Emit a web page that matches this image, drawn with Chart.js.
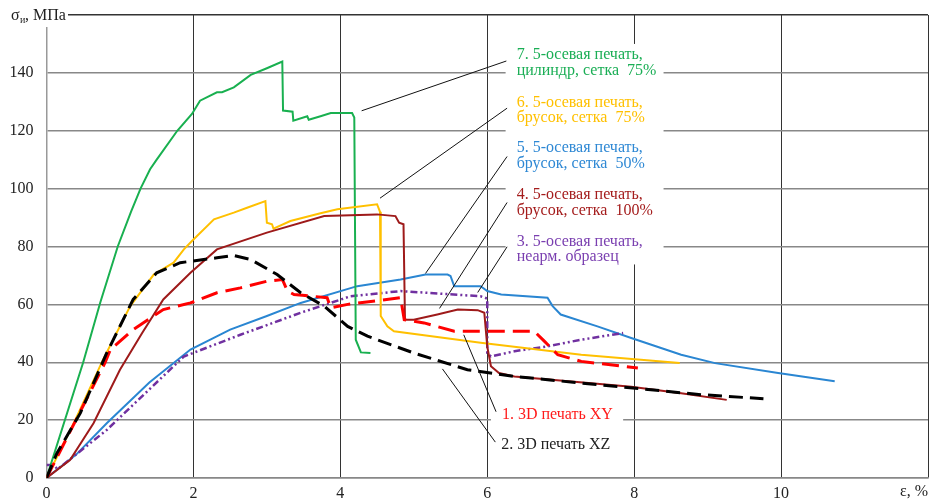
<!DOCTYPE html>
<html>
<head>
<meta charset="utf-8">
<style>
  body { margin: 0; background: #fff; }
  #wrap { width: 930px; height: 504px; }
</style>
<script src="https://cdn.jsdelivr.net/npm/chart.js@4"></script>
</head>
<body>
<div id="wrap"><canvas id="myChart" width="930" height="504"></canvas></div>
<script>
// кривые: деформация, % и напряжение, МПа
const blackX = [0, 0.14, 0.46, 0.82, 1.18, 1.5, 1.82, 2.32, 2.55, 2.78, 3.14, 3.46, 3.78, 4.1, 4.37, 5.0, 5.73, 6.37, 7.28, 8.91, 9.76];
const blackY = [0, 8.5, 22.4, 43.2, 61.7, 70.9, 74.4, 76.1, 76.9, 75.5, 70.3, 64, 59.4, 52.4, 49, 43.2, 37.4, 35.1, 32.8, 28.8, 27.4];

const redX = [0, 0.4, 0.8, 0.87, 1.18, 1.59, 1.96, 2.32, 2.64, 3.0, 3.21, 3.23, 3.28, 3.37, 3.82, 3.87, 4.1, 4.82, 4.87, 5.14, 5.55, 6.64, 6.78, 6.96, 7.28, 8.05];
const redY = [0, 20, 40, 44.4, 51.3, 58.2, 60.5, 64, 65.7, 68, 68.6, 67.5, 64.6, 63.4, 62.3, 58.8, 60, 62.3, 54.7, 53.6, 50.7, 50.7, 47.2, 42.6, 40.3, 38];

const purpleX = [0, 0.1, 0.15, 0.82, 1.87, 2.64, 3.46, 4.14, 4.82, 5.91, 6.0, 6.0, 6.05, 6.37, 6.82, 7.28, 7.85];
const purpleY = [4.5, 4.5, 3, 16.6, 42, 49.5, 57.1, 62.8, 64.6, 62.8, 62, 43.2, 42, 43.8, 45.5, 47.8, 50.1];

const maroonX = [0, 0.32, 0.64, 1.0, 1.3, 1.59, 1.96, 2.32, 3.0, 3.78, 4.5, 4.75, 4.8, 4.86, 4.88, 5.0, 5.32, 5.6, 5.87, 5.96, 6.0, 6.05, 6.16, 6.37, 7.96, 8.64, 9.26];
const maroonY = [0, 6.2, 18.9, 37.4, 50, 61.7, 70.9, 79, 84.8, 90.5, 91.1, 90.5, 88.2, 87.7, 54.7, 54.7, 56.5, 58.2, 58, 57.1, 45.5, 38.6, 36.3, 35.1, 31.5, 29.3, 27];

const blueX = [0, 0.4, 0.82, 1.4, 1.96, 2.5, 3.0, 3.46, 4.23, 4.82, 5.16, 5.46, 5.5, 5.55, 5.91, 6.0, 6.19, 6.82, 6.89, 7.0, 7.5, 7.96, 8.64, 9.1, 9.96, 10.73];
const blueY = [0, 8, 18.9, 33, 44.4, 51.3, 56, 60.5, 66.3, 68.6, 70.3, 70.3, 69.8, 66.3, 66.3, 64.6, 63.4, 62.3, 59.4, 56.5, 52.4, 48.4, 42.6, 39.7, 36.3, 33.4];

const yellowX = [0, 0.37, 0.77, 1.14, 1.46, 1.73, 1.87, 1.98, 2.28, 2.55, 2.73, 2.98, 3.0, 3.07, 3.09, 3.32, 3.73, 3.96, 4.5, 4.54, 4.55, 4.64, 4.73, 5.91, 7.28, 8.62];
const yellowY = [0, 18.9, 40.9, 59.4, 70.3, 74.4, 79, 81.9, 89.4, 91.7, 93.4, 95.7, 88.2, 87.7, 86.2, 88.8, 91.5, 92.9, 94.6, 92, 56, 52.4, 50.7, 46.7, 42.6, 39.7];

const greenX = [0, 0.5, 0.73, 0.97, 1.15, 1.28, 1.41, 1.5, 1.78, 1.98, 2.09, 2.32, 2.39, 2.55, 2.78, 3.0, 3.21, 3.22, 3.35, 3.36, 3.55, 3.57, 3.73, 3.87, 4.16, 4.19, 4.21, 4.28, 4.41];
const greenY = [0, 40, 60.5, 80, 92, 100, 106.7, 110, 120, 125.8, 130.4, 133.3, 133.3, 135, 139.3, 141.6, 143.9, 127, 126.6, 123.5, 125, 123.8, 125, 126.1, 126.1, 124.6, 47.8, 43.4, 43.2];

const xTicks = [0, 2, 4, 6, 8, 10];
const yTicks = [0, 20, 40, 60, 80, 100, 120, 140];

// подписи кривых
const labelTexts = [
  ["7. 5-осевая печать,", "цилиндр, сетка  75%"],
  ["6. 5-осевая печать,", "брусок, сетка  75%"],
  ["5. 5-осевая печать,", "брусок, сетка  50%"],
  ["4. 5-осевая печать,", "брусок, сетка  100%"],
  ["3. 5-осевая печать,", "неарм. образец"],
  ["1. 3D печать XY"],
  ["2. 3D печать XZ"]
];
const labelColors = ["#1aae55", "#ffc000", "#2e88d4", "#a41c1c", "#7a3fb0", "#ff1a1a", "#222"];
const labelAt = [[6.4, 146.1], [6.4, 129.8], [6.4, 114], [6.4, 97.8], [6.4, 81.7], [6.2, 21.8], [6.19, 11.4]];
const leaderFrom = [[6.26, 144.1], [6.27, 127.8], [6.27, 111.1], [6.27, 95.2], [6.27, 79.9], [6.12, 22.9], [6.11, 12.4]];
const leaderTo = [[4.29, 126.9], [4.54, 96.7], [5.16, 70.7], [5.35, 58.6], [5.87, 64.1], [5.68, 49.5], [5.39, 37.7]];

const toPoints = (xs, ys) => xs.map((x, i) => ({ x: x, y: ys[i] }));

const serie = (data, color, width, dash) => ({
  data: data,
  borderColor: color,
  backgroundColor: color,
  borderWidth: width,
  borderDash: dash,
  pointRadius: 0,
  tension: 0,
  fill: false
});

const anotaciones = {
  id: "anotaciones",
  beforeDatasetsDraw(chart) {
    const c = chart.ctx, xs = chart.scales.x, ys = chart.scales.y;
    c.save();
    c.fillStyle = "#fff";
    // белые подложки под подписи
    c.fillRect(xs.getPixelForValue(6.25), ys.getPixelForValue(150), xs.getPixelForValue(8.4) - xs.getPixelForValue(6.25), ys.getPixelForValue(73.8) - ys.getPixelForValue(150));
    c.fillRect(xs.getPixelForValue(6.05), ys.getPixelForValue(25.3), xs.getPixelForValue(7.85) - xs.getPixelForValue(6.05), ys.getPixelForValue(8) - ys.getPixelForValue(25.3));
    c.fillRect(0, 0, 68, 27);
    c.restore();
  },
  afterDatasetsDraw(chart) {
    const c = chart.ctx, xs = chart.scales.x, ys = chart.scales.y;
    c.save();
    c.strokeStyle = "#111";
    c.lineWidth = 1;
    leaderFrom.forEach((p, i) => {
      c.beginPath();
      c.moveTo(xs.getPixelForValue(p[0]), ys.getPixelForValue(p[1]));
      c.lineTo(xs.getPixelForValue(leaderTo[i][0]), ys.getPixelForValue(leaderTo[i][1]));
      c.stroke();
    });
    c.font = "16px 'Liberation Serif'";
    c.textBaseline = "middle";
    labelTexts.forEach((lines, i) => {
      c.fillStyle = labelColors[i];
      const x = xs.getPixelForValue(labelAt[i][0]);
      const y = ys.getPixelForValue(labelAt[i][1]);
      lines.forEach((t, j) => c.fillText(t, x, y + j * 15.6));
    });
    // подписи осей
    c.fillStyle = "#222";
    c.font = "16px 'Liberation Serif'";
    c.fillText("σ", 11, 16);
    c.font = "10px 'Liberation Serif'";
    c.fillText("и", 20, 20);
    c.font = "16px 'Liberation Serif'";
    c.fillText(", МПа", 25, 16);
    c.fillText("ε, %", 900, 492);
    c.restore();
  }
};

const config = {
  type: "line",
  data: {
    datasets: [
      serie(toPoints(blackX, blackY), "#000", 3, [14, 7]),
      serie(toPoints(redX, redY), "#ff0000", 3, [17, 8]),
      serie(toPoints(maroonX, maroonY), "#9e1a1a", 2, []),
      serie(toPoints(yellowX, yellowY), "#ffc000", 2, []),
      serie(toPoints(greenX, greenY), "#19b050", 2, []),
      serie(toPoints(purpleX, purpleY), "#7030a0", 2.5, [7, 3, 2, 3, 2, 3]),
      serie(toPoints(blueX, blueY), "#2a86d2", 2, [])
    ]
  },
  options: {
    responsive: false,
    animation: false,
    layout: { padding: { top: 15, right: 2, left: 0, bottom: 0 } },
    plugins: { legend: { display: false }, tooltip: { enabled: false } },
    scales: {
      x: {
        type: "linear",
        min: 0,
        max: 12,
        afterBuildTicks: (s) => { s.ticks = xTicks.concat([12]).map((v) => ({ value: v })); },
        afterFit: (s) => { s.height = 26; s.paddingLeft = 0; s.paddingRight = 0; },
        ticks: {
          padding: 6,
          maxRotation: 0,
          color: "#222",
          font: { family: "'Liberation Serif'", size: 16 },
          callback: (v) => (xTicks.includes(v) ? String(v) : "")
        },
        grid: { color: "#333", lineWidth: 1, drawTicks: false },
        border: { color: "#888", width: 1.5 }
      },
      y: {
        min: 0,
        max: 160,
        afterBuildTicks: (s) => { s.ticks = yTicks.concat([160]).map((v) => ({ value: v })); },
        afterFit: (s) => { s.width = 46.5; s.paddingTop = 0; s.paddingBottom = 0; },
        ticks: {
          padding: 13,
          color: "#222",
          font: { family: "'Liberation Serif'", size: 16 },
          callback: (v) => (yTicks.includes(v) ? String(v) : "")
        },
        grid: { color: (c) => (c.tick && c.tick.value === 160 ? "#333" : "#888"), lineWidth: 1.4, drawTicks: false },
        border: { color: "#999", width: 1.5 }
      }
    }
  },
  plugins: [anotaciones]
};

new Chart(document.getElementById("myChart"), config);
</script>
</body>
</html>
